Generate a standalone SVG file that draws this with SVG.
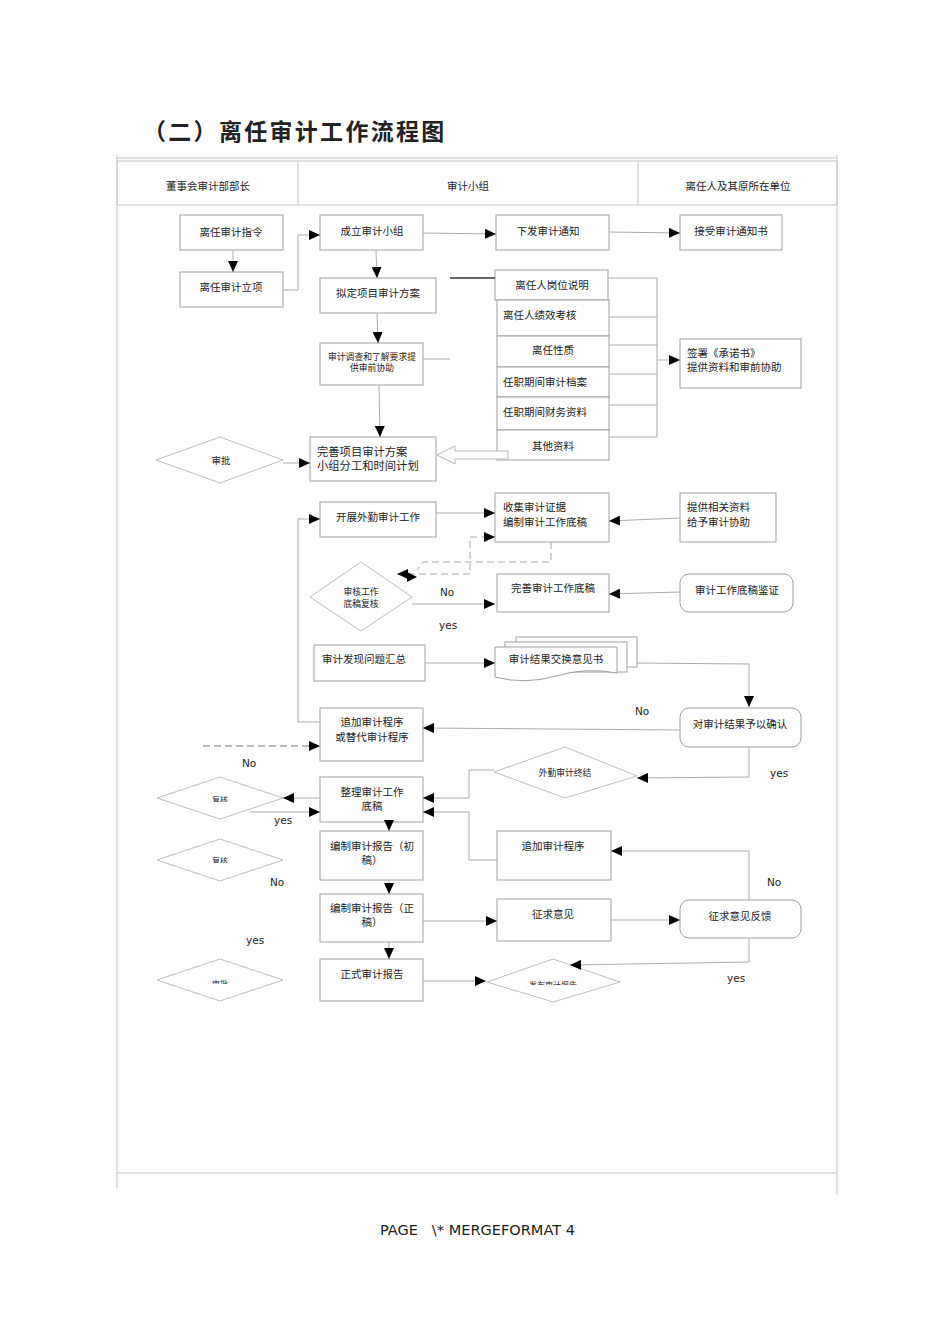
<svg xmlns="http://www.w3.org/2000/svg" width="950" height="1344" viewBox="0 0 950 1344">
<defs>
<marker id="ah" markerUnits="userSpaceOnUse" markerWidth="11" markerHeight="10" refX="11" refY="5" orient="auto"><path d="M0,0 L11,5 L0,10 z" fill="#000"/></marker>
<marker id="ahs" markerUnits="userSpaceOnUse" markerWidth="11" markerHeight="10" refX="11" refY="5" orient="auto-start-reverse"><path d="M0,0 L11,5 L0,10 z" fill="#000"/></marker>
<clipPath id="k1"><rect x="150" y="770" width="140" height="32"/></clipPath>
<clipPath id="k2"><rect x="150" y="830" width="140" height="33"/></clipPath>
<clipPath id="k3"><rect x="150" y="950" width="140" height="34"/></clipPath>
<clipPath id="k4"><rect x="480" y="950" width="150" height="35"/></clipPath>
</defs>
<style>
.f{fill:none;stroke:#c4c4c4;stroke-width:1}
.n{fill:#fff;stroke:#a0a0a0;stroke-width:1}
.d{fill:#fff;stroke:#bdbdbd;stroke-width:1}
.c{fill:none;stroke:#ababab;stroke-width:1}
.a{marker-end:url(#ah)}
.ds{stroke-dasharray:7,4}
text{font-family:"Noto Sans CJK SC","Noto Sans CJK JP",sans-serif;font-size:10.5px;fill:#222}
.m{text-anchor:middle}
.s{font-size:8.8px}
.t{font-size:8px}
.l{font-family:"DejaVu Sans","Liberation Sans",sans-serif;font-size:10.5px}
</style>
<rect x="0" y="0" width="950" height="1344" fill="#fff"/>

<text x="143" y="140" style="font-size:23px;font-weight:700;letter-spacing:2.3px">（二）离任审计工作流程图</text>

<g id="frame">
<line class="f" x1="117" y1="158" x2="837" y2="158"/>
<rect class="f" x="117" y="161" width="720" height="44"/>
<line class="f" x1="298" y1="161" x2="298" y2="205"/>
<line class="f" x1="638" y1="161" x2="638" y2="205"/>
<line class="f" x1="117" y1="155" x2="117" y2="1188"/>
<line class="f" x1="837" y1="155" x2="837" y2="1195"/>
<line class="f" x1="117" y1="1173" x2="837" y2="1173"/>
<text class="m" x="208" y="190">董事会审计部部长</text>
<text class="m" x="468" y="190">审计小组</text>
<text class="m" x="738" y="190">离任人及其原所在单位</text>
</g>

<g id="n1"><rect class="n" x="180" y="215" width="103" height="35"/><text class="m" x="231" y="236">离任审计指令</text></g>
<g id="n2"><rect class="n" x="180" y="272" width="103" height="35"/><text class="m" x="231" y="291">离任审计立项</text></g>
<g id="n3"><rect class="n" x="320" y="215" width="103" height="35"/><text class="m" x="372" y="235">成立审计小组</text></g>
<g id="n4"><rect class="n" x="320" y="278" width="116" height="35"/><text class="m" x="378" y="297">拟定项目审计方案</text></g>
<g id="n5"><rect class="n" x="496" y="215" width="113" height="35"/><text class="m" x="548" y="235">下发审计通知</text></g>
<g id="n6"><rect class="n" x="680" y="215" width="102" height="35"/><text class="m" x="731" y="235">接受审计通知书</text></g>
<g id="n7"><rect class="n" x="495" y="270" width="113" height="30"/><text class="m" x="552" y="289">离任人岗位说明</text></g>
<g id="n8"><rect class="n" x="497" y="300" width="112" height="36"/><text x="503" y="319">离任人绩效考核</text></g>
<g id="n9"><rect class="n" x="497" y="336" width="112" height="31"/><text class="m" x="553" y="354">离任性质</text></g>
<g id="n10"><rect class="n" x="497" y="367" width="112" height="30"/><text x="503" y="386">任职期间审计档案</text></g>
<g id="n11"><rect class="n" x="497" y="397" width="112" height="33"/><text x="503" y="416">任职期间财务资料</text></g>
<g id="n12"><rect class="n" x="497" y="430" width="112" height="30"/><text class="m" x="553" y="450">其他资料</text></g>
<g id="n13"><rect class="n" x="680" y="339" width="121" height="49"/><text x="687" y="357">签署《承诺书》</text><text x="687" y="371">提供资料和审前协助</text></g>
<g id="n14"><rect class="n" x="320" y="343" width="103" height="42"/><text class="m s" x="372" y="360">审计调查和了解要求提</text><text class="m s" x="372" y="371">供审前协助</text></g>
<g id="n15"><rect class="n" x="310" y="437" width="126" height="44"/><text x="317" y="456" style="font-size:11.3px">完善项目审计方案</text><text x="317" y="470" style="font-size:11.3px">小组分工和时间计划</text></g>
<g id="n16"><polygon class="d" points="156,460 220,437 283,460 220,483"/><text class="m" x="221" y="464" style="font-size:9.5px">审批</text></g>
<g id="n17"><rect class="n" x="320" y="502" width="116" height="35"/><text class="m" x="378" y="521">开展外勤审计工作</text></g>
<g id="n18"><rect class="n" x="495" y="493" width="114" height="49"/><text x="503" y="511">收集审计证据</text><text x="503" y="526">编制审计工作底稿</text></g>
<g id="n19"><rect class="n" x="680" y="493" width="96" height="49"/><text x="687" y="511">提供相关资料</text><text x="687" y="526">给予审计协助</text></g>
<g id="n20"><polygon class="d" points="310,597 361,562 412,597 361,631"/><text class="m s" x="361" y="595">审核工作</text><text class="m s" x="361" y="607">底稿复核</text></g>
<g id="n21"><rect class="n" x="497" y="574" width="112" height="38"/><text class="m" x="553" y="592">完善审计工作底稿</text></g>
<g id="n22"><rect class="n" x="680" y="574" width="113" height="38" rx="9"/><text class="m" x="737" y="594">审计工作底稿鉴证</text></g>
<g id="n23"><rect class="n" x="314" y="645" width="111" height="36"/><text x="322" y="663">审计发现问题汇总</text></g>
<g id="n24">
<rect class="n" x="516" y="637" width="121" height="30"/>
<rect class="n" x="505" y="642" width="122" height="30"/>
<path class="n" d="M495,647 H617 V673 Q586,667 556,676 Q525,685 495,677 Z"/>
<text class="m" x="556" y="663">审计结果交换意见书</text></g>
<g id="n25"><rect class="n" x="680" y="708" width="121" height="39" rx="9"/><text class="m" x="740" y="728">对审计结果予以确认</text></g>
<g id="n26"><rect class="n" x="320" y="708" width="103" height="53"/><text class="m" x="372" y="726">追加审计程序</text><text class="m" x="372" y="741">或替代审计程序</text></g>
<g id="n27"><polygon class="d" points="494,772 565,747 637,776 565,798"/><text class="m s" x="565" y="776">外勤审计终结</text></g>
<g id="n28"><rect class="n" x="320" y="777" width="103" height="45"/><text class="m" x="372" y="796">整理审计工作</text><text class="m" x="372" y="810">底稿</text></g>
<g id="n29"><polygon class="d" points="157,798 220,777 283,798 220,819"/><text class="m t" x="220" y="803" clip-path="url(#k1)">复核</text></g>
<g id="n30"><rect class="n" x="320" y="831" width="103" height="49"/><text class="m" x="372" y="850">编制审计报告（初</text><text class="m" x="372" y="864">稿）</text></g>
<g id="n31"><polygon class="d" points="157,860 220,839 283,860 220,881"/><text class="m t" x="220" y="864" clip-path="url(#k2)">复核</text></g>
<g id="n32"><rect class="n" x="497" y="831" width="114" height="49"/><text class="m" x="553" y="850">追加审计程序</text></g>
<g id="n33"><rect class="n" x="320" y="894" width="103" height="48"/><text class="m" x="372" y="912">编制审计报告（正</text><text class="m" x="372" y="926">稿）</text></g>
<g id="n34"><rect class="n" x="497" y="899" width="114" height="42"/><text class="m" x="553" y="918">征求意见</text></g>
<g id="n35"><rect class="n" x="680" y="900" width="121" height="38" rx="9"/><text class="m" x="740" y="920">征求意见反馈</text></g>
<g id="n36"><rect class="n" x="320" y="959" width="103" height="42"/><text class="m" x="372" y="978">正式审计报告</text></g>
<g id="n37"><polygon class="d" points="157,980 220,959 283,980 220,1001"/><text class="m t" x="220" y="987" clip-path="url(#k3)">审批</text></g>
<g id="n38"><polygon class="d" points="487,982 553,959 620,982 553,1002"/><text class="m t" x="553" y="988" clip-path="url(#k4)">发布审计报告</text></g>

<g id="connectors">
<line class="c a" x1="233" y1="250" x2="233" y2="272"/>
<polyline class="c a" points="283,290 298,290 298,235 320,235"/>
<line class="c a" x1="423" y1="233" x2="496" y2="234"/>
<line class="c a" x1="609" y1="232" x2="680" y2="233"/>
<line class="c a" x1="376" y1="250" x2="377" y2="278"/>
<line class="c a" x1="377" y1="313" x2="378" y2="343"/>
<line class="c a" x1="379" y1="385" x2="380" y2="437"/>
<line class="c a" x1="283" y1="463" x2="310" y2="463"/>
<line x1="450" y1="278" x2="495" y2="278" stroke="#333" stroke-width="1.4"/>
<line class="c" x1="423" y1="359" x2="450" y2="359"/>
<path d="M508,451 L455,451 L455,446 L437,455 L455,464 L455,459 L508,459 Z" fill="#fff" stroke="#b5b5b5" stroke-width="1"/>
<polyline class="c" points="608,278 657,278 657,437 609,437"/>
<line class="c" x1="609" y1="317" x2="657" y2="317"/>
<line class="c" x1="609" y1="345" x2="657" y2="345"/>
<line class="c" x1="609" y1="374" x2="657" y2="374"/>
<line class="c" x1="609" y1="405" x2="657" y2="405"/>
<line class="c a" x1="657" y1="360" x2="680" y2="360"/>
<line class="c a" x1="436" y1="513" x2="495" y2="513"/>
<line class="c a" x1="680" y1="518" x2="609" y2="521"/>
<polyline class="c ds" points="551,542 551,562 423,562 417,570"/>
<polyline class="c ds" points="397,574 470,574 470,537 495,537" style="marker-start:url(#ahs);marker-end:url(#ah)"/>
<path d="M407,572 L417,577 L407,582 z" fill="#000"/>
<line class="c a" x1="412" y1="604" x2="495" y2="604"/>
<line class="c a" x1="680" y1="592" x2="609" y2="594"/>
<line class="c a" x1="425" y1="663" x2="495" y2="663"/>
<polyline class="c a" points="637,663 749,664 749,707"/>
<line class="c a" x1="680" y1="730" x2="423" y2="728"/>
<polyline class="c a" points="320,722 298,722 298,519 320,519"/>
<polyline points="203,746 310,746" fill="none" stroke="#7a7a7a" stroke-width="1.2" stroke-dasharray="7,4"/>
<path d="M309,741 L320,746 L309,751 z" fill="#000"/>
<polyline class="c a" points="749,747 749,777 637,778"/>
<polyline class="c a" points="494,770 469,770 469,798 423,798"/>
<line class="c a" x1="320" y1="798" x2="283" y2="798"/>
<line class="c a" x1="250" y1="812" x2="320" y2="812"/>
<polyline class="c a" points="497,860 469,860 469,812 423,812"/>
<line class="c a" x1="389" y1="822" x2="389" y2="831"/>
<line class="c a" x1="389" y1="880" x2="389" y2="894"/>
<line class="c a" x1="389" y1="942" x2="389" y2="959"/>
<line class="c a" x1="423" y1="921" x2="497" y2="921"/>
<line class="c a" x1="611" y1="920" x2="680" y2="920"/>
<polyline class="c a" points="749,900 749,851 611,851"/>
<polyline class="c a" points="749,939 749,962 570,965"/>
<line class="c a" x1="423" y1="981" x2="486" y2="981"/>
</g>

<g id="labels">
<text class="l" x="440" y="596">No</text>
<text class="l" x="439" y="629">yes</text>
<text class="l" x="635" y="715">No</text>
<text class="l" x="242" y="767">No</text>
<text class="l" x="770" y="777">yes</text>
<text class="l" x="274" y="824">yes</text>
<text class="l" x="270" y="886">No</text>
<text class="l" x="767" y="886">No</text>
<text class="l" x="246" y="944">yes</text>
<text class="l" x="727" y="982">yes</text>
</g>

<text x="380" y="1235" textLength="195" lengthAdjust="spacingAndGlyphs" style="font-family:'DejaVu Sans','Liberation Sans',sans-serif;font-size:14px;white-space:pre">PAGE   \* MERGEFORMAT 4</text>
</svg>
